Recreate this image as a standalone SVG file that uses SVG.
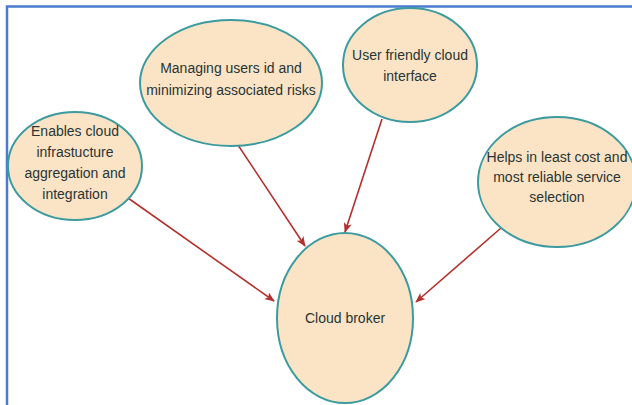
<svg xmlns="http://www.w3.org/2000/svg" width="632" height="405" viewBox="0 0 632 405">
  <style>
    .node ellipse { fill: #fbe4c6; stroke: #3b9b9f; stroke-width: 2; }
    .node text { font-family: "Liberation Sans", Arial, sans-serif; font-size: 14px; fill: #283434; text-anchor: middle; }
    .edge { stroke: #b3302d; stroke-width: 1.6; fill: none; marker-end: url(#arrow); }
    .frame { stroke: #4a7bd0; stroke-width: 2.5; fill: none; }
  </style>
  <defs>
    <marker id="arrow" viewBox="0 0 12 10" refX="11" refY="5" markerWidth="10" markerHeight="8.5" markerUnits="userSpaceOnUse" orient="auto">
      <path d="M0,0 L12,5 L0,10 L3,5 Z" fill="#b3302d"/>
    </marker>
  </defs>
  <rect width="632" height="405" fill="#ffffff"/>
  <!-- frame: top and left rules -->
  <path class="frame" d="M7,405 V6.5 H632"/>

  <g id="connectors">
    <line class="edge" x1="128" y1="198" x2="274" y2="301"/>
    <line class="edge" x1="232" y1="136" x2="305" y2="246"/>
    <line class="edge" x1="382" y1="119" x2="345" y2="232"/>
    <line class="edge" x1="501" y1="228" x2="416" y2="302"/>
  </g>

  <g id="node-aggregation" class="node">
    <ellipse cx="75" cy="166" rx="67" ry="54"/>
    <text x="75" y="136">Enables cloud</text>
    <text x="75" y="157">infrastucture</text>
    <text x="75" y="178">aggregation and</text>
    <text x="75" y="199">integration</text>
  </g>

  <g id="node-identity" class="node">
    <ellipse cx="231" cy="83" rx="91" ry="63"/>
    <text x="231" y="73">Managing users id and</text>
    <text x="231" y="95">minimizing associated risks</text>
  </g>

  <g id="node-interface" class="node">
    <ellipse cx="410" cy="65" rx="67" ry="57"/>
    <text x="410" y="60">User friendly cloud</text>
    <text x="410" y="81">interface</text>
  </g>

  <g id="node-selection" class="node">
    <ellipse cx="557" cy="182" rx="79" ry="65"/>
    <text x="557" y="162">Helps in least cost and</text>
    <text x="557" y="182">most reliable service</text>
    <text x="557" y="202">selection</text>
  </g>

  <g id="node-broker" class="node">
    <ellipse cx="345" cy="318" rx="68" ry="85"/>
    <text x="345" y="323">Cloud broker</text>
  </g>
</svg>
